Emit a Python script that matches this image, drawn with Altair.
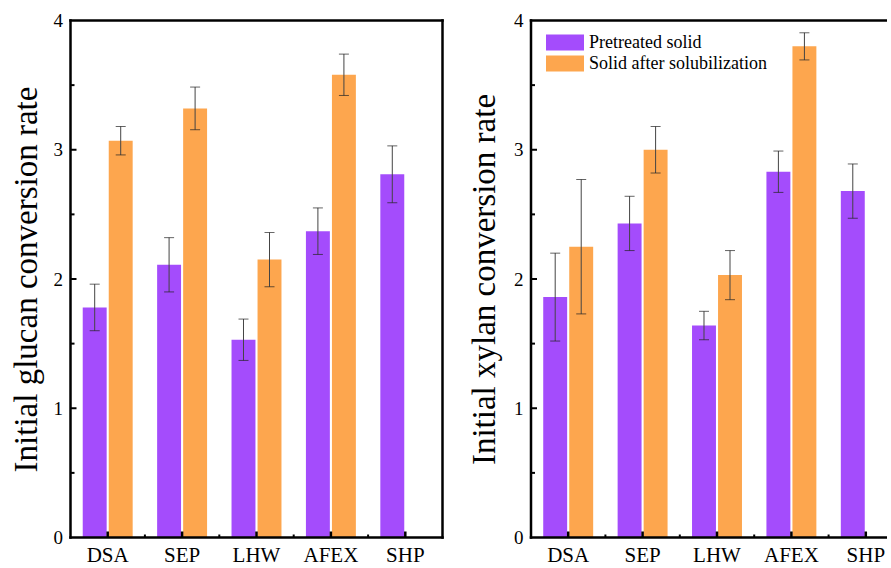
import altair as alt
import pandas as pd

categories = ["DSA", "SEP", "LHW", "AFEX", "SHP"]
groups = ["Pretreated solid", "Solid after solubilization"]

glucan_pretreated = [1.78, 2.11, 1.53, 2.37, 2.81]
glucan_pretreated_err = [0.18, 0.21, 0.16, 0.18, 0.22]
glucan_solubilized = [3.07, 3.32, 2.15, 3.58, None]
glucan_solubilized_err = [0.11, 0.165, 0.21, 0.16, None]

xylan_pretreated = [1.86, 2.43, 1.64, 2.83, 2.68]
xylan_pretreated_err = [0.34, 0.21, 0.11, 0.16, 0.21]
xylan_solubilized = [2.25, 3.00, 2.03, 3.80, None]
xylan_solubilized_err = [0.52, 0.18, 0.19, 0.105, None]

y_labels = [0, 1, 2, 3, 4]
y_major_ticks = [1, 2, 3]
y_minor_ticks = [0.5, 1.5, 2.5, 3.5]

FONT = "Liberation Serif"
COLORS = ["#A44CFC", "#FDA64E"]
BAND_RANGE = 372   # full category range of each panel
H = 517
W_LEFT = 372
W_RIGHT = 356      # right panel is cut by the picture's edge


def make_df(v1, e1, v2, e2):
    rows = []
    for cat, a, ea, b, eb in zip(categories, v1, e1, v2, e2):
        for g, v, e in ((groups[0], a, ea), (groups[1], b, eb)):
            if v is None:
                continue
            rows.append({"category": cat, "group": g, "value": v,
                         "lo": v - e, "hi": v + e})
    return pd.DataFrame(rows)


def panel(df, title, show_legend, width, title_x, right_border):
    xscale = alt.Scale(domain=categories, range=[0, BAND_RANGE], paddingInner=0, paddingOuter=0)
    yscale = alt.Scale(domain=[0, 4], nice=False, zero=True)
    xo = alt.XOffset("group:N", scale=alt.Scale(domain=groups, paddingInner=0.08, paddingOuter=0.47))

    def X(**kw):
        return alt.X("category:N", sort=categories, scale=xscale, axis=None, **kw)

    if show_legend:
        legend = alt.Legend(title=None, orient="none", legendX=15, legendY=12,
                            symbolType="M-1,-0.8H2.8V0.8H-1Z", symbolSize=400,
                            symbolStrokeWidth=0, labelFont=FONT, labelFontSize=18,
                            labelColor="black", labelOffset=23, rowPadding=2, padding=0,
                            labelLimit=0)
    else:
        legend = None

    base = alt.Chart(df)
    bars = base.mark_bar().encode(
        x=X(),
        xOffset=xo,
        y=alt.Y("value:Q", scale=yscale, title=title,
                axis=alt.Axis(values=y_labels, format="d", titleX=title_x, titleY=H / 2)),
        color=alt.Color("group:N", scale=alt.Scale(domain=groups, range=COLORS), legend=legend),
    )
    stems = base.mark_rule(color="#444444", strokeWidth=1).encode(
        x=X(), xOffset=xo,
        y=alt.Y("lo:Q", scale=yscale),
        y2="hi:Q",
    )
    caps = base.transform_fold(["lo", "hi"], as_=["end", "cap"]).mark_tick(
        color="#222222", size=10, thickness=1
    ).encode(
        x=X(), xOffset=xo,
        y=alt.Y("cap:Q", scale=yscale),
    )

    cat_df = pd.DataFrame({"category": categories})
    xlabels = alt.Chart(cat_df).mark_text(
        font=FONT, fontSize=21, color="black", baseline="top", align="center"
    ).encode(x=X(), y=alt.value(H + 7), text="category:N")

    ymaj = alt.Chart(pd.DataFrame({"t": y_major_ticks})).mark_rule(color="black", strokeWidth=2).encode(
        y=alt.Y("t:Q", scale=yscale), x=alt.value(0), x2=alt.value(6))
    ymin = alt.Chart(pd.DataFrame({"t": y_minor_ticks})).mark_rule(color="black", strokeWidth=2).encode(
        y=alt.Y("t:Q", scale=yscale), x=alt.value(0), x2=alt.value(4))
    xmaj = alt.Chart(cat_df).mark_rule(color="black", strokeWidth=2.5).encode(
        x=X(), y=alt.value(H), y2=alt.value(H - 6))
    xmin = alt.Chart(pd.DataFrame({"category": categories[1:]})).mark_rule(color="black", strokeWidth=2).encode(
        x=X(bandPosition=0), y=alt.value(H), y2=alt.value(H - 3))

    one = pd.DataFrame({"k": [0]})
    fr = alt.Chart(one).mark_rule(color="black", strokeWidth=2.5)
    frame = [
        fr.encode(x=alt.value(-1.25), x2=alt.value(width + (1.25 if right_border else 0)), y=alt.value(0)),
        fr.encode(x=alt.value(-1.25), x2=alt.value(width + (1.25 if right_border else 0)), y=alt.value(H)),
        fr.encode(x=alt.value(0), y=alt.value(-1.25), y2=alt.value(H + 1.25)),
    ]
    if right_border:
        frame.append(fr.encode(x=alt.value(width), y=alt.value(-1.25), y2=alt.value(H + 1.25)))

    layers = [bars, stems, caps, xlabels, ymaj, ymin, xmaj, xmin] + frame
    return alt.layer(*layers).properties(
        width=width, height=H,
        view=alt.ViewConfig(stroke="transparent", strokeWidth=0),
    )


left = panel(make_df(glucan_pretreated, glucan_pretreated_err, glucan_solubilized, glucan_solubilized_err),
             "Initial glucan conversion rate", False, W_LEFT, -34, True)
right = panel(make_df(xylan_pretreated, xylan_pretreated_err, xylan_solubilized, xylan_solubilized_err),
              "Initial xylan conversion rate", True, W_RIGHT, -36.5, False)

chart = alt.hconcat(left, right, spacing=22.5).resolve_scale(
    color="independent"
).properties(
    padding={"left": 9.5, "top": 11.5, "right": 0, "bottom": 0},
    background="white",
).configure(
    font=FONT
).configure_axis(
    grid=False, domain=False, ticks=False, tickSize=0,
    labelFont=FONT, labelColor="black",
    titleFont=FONT, titleColor="black", titleFontWeight="normal",
).configure_axisY(
    labelFontSize=19, labelPadding=8,
    titleFontSize=33, titleAngle=270,
    titleAlign="center", titleBaseline="alphabetic",
)

chart.save("out.html", embed_options={"renderer": "svg", "actions": False})
